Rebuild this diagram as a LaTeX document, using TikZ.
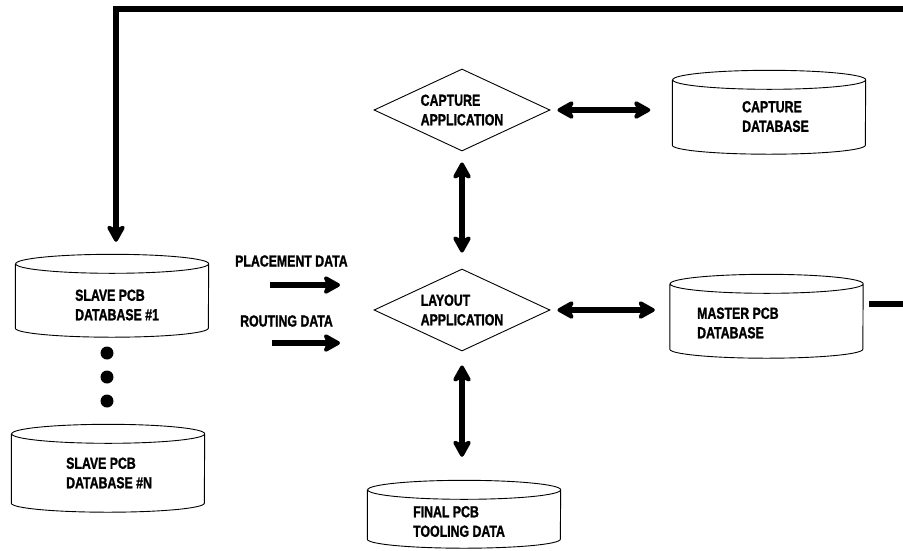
\documentclass[tikz,border=0pt]{standalone}
\usepackage{fontspec}
\newfontfamily\chartfont{Liberation Sans}[FakeStretch=0.77,BoldFeatures={FakeBold=1.3}]
\usetikzlibrary{arrows.meta,shapes.geometric}

\begin{document}
\begin{tikzpicture}[x=1pt,y=-1pt,
        >={Stealth[length=20pt,width=22pt,inset=5pt,round]},
        lbl/.style={font=\chartfont\bfseries\fontsize{16}{19.5}\selectfont, align=left, inner sep=0pt},
        app/.style={lbl, draw, line width=0.9pt, diamond, aspect=2.15, minimum width=176pt, minimum height=82pt},
        dbbody/.style={minimum width=193pt, minimum height=#1, inner sep=0pt},
        fat/.style={line width=5.5pt}]
    \useasboundingbox (0,0) rectangle (903,550);

    % applications
    \node[app] (capapp) at (462,110) {CAPTURE\\APPLICATION};
    \node[app] (layapp) at (462,310) {LAYOUT\\APPLICATION};

    % database bodies, outlines drawn below
    \node[dbbody=65pt] (capdb) at (769,112.5) {};
    \node[dbbody=65pt] (mdb) at (766.5,316.5) {};
    \node[dbbody=64pt] (sl1) at (112,296) {};
    \node[dbbody=69pt] (sln) at (108,468.5) {};
    \node[dbbody=49pt] (fin) at (464,514.5) {};
    \foreach \db in {capdb,mdb,sl1,sln,fin}{
        \draw[line width=0.9pt] (\db.north west) -- (\db.south west)
            arc[start angle=180, end angle=360, x radius=96.5pt, y radius=9pt]
            -- (\db.north east)
            arc[start angle=0, end angle=360, x radius=96.5pt, y radius=9.5pt];
    }
    \node[lbl, anchor=west] (capdbt) at (742,116.5) {CAPTURE\\DATABASE};
    \node[lbl, anchor=west] (mdbt) at (697,323) {MASTER PCB\\DATABASE};
    \node[lbl, anchor=west] (sl1t) at (75,305) {SLAVE PCB\\DATABASE \#1};
    \node[lbl, anchor=west] (slnt) at (66,473) {SLAVE PCB\\DATABASE \#N};
    \node[lbl, anchor=west] (fint) at (413,521.5) {FINAL PCB\\TOOLING DATA};

    % slave dots
    \foreach \y in {353,377,401}{
        \fill (107,\y) circle (6.5pt);
    }

    % data to layout
    \node[lbl, anchor=west] (place) at (235,261) {PLACEMENT DATA};
    \node[lbl, anchor=west] (route) at (240,321) {ROUTING DATA};
    \coordinate (pa) at (270,285);
    \coordinate (pb) at (340,285);
    \coordinate (ra) at (272,343);
    \coordinate (rb) at (340,343);
    \draw[fat,->] (pa) -- (pb);
    \draw[fat,->] (ra) -- (rb);

    % two way links
    \draw[fat,<->,shorten <=7pt,shorten >=22pt] (capapp.east) -- (capapp.east -| capdb.west);
    \draw[fat,<->,shorten <=7pt,shorten >=15pt] (layapp.east) -- (layapp.east -| mdb.west);
    \draw[fat,<->,shorten <=11pt,shorten >=16pt] (capapp.south) -- (layapp.north);
    \draw[fat,<->,shorten <=14pt,shorten >=33pt] (layapp.south) -- (layapp.south |- fin.north);

    % master back to slave
    \coordinate (mout) at (869,304);
    \coordinate (mend) at (904,304);
    \coordinate (rtop) at (904,9);
    \coordinate (ltop) at (116,9);
    \draw[fat] (mout) -- (mend);
    \draw[fat,->,shorten >=22pt] (rtop) -- (ltop) -- (ltop |- sl1.north);
\end{tikzpicture}
\end{document}
